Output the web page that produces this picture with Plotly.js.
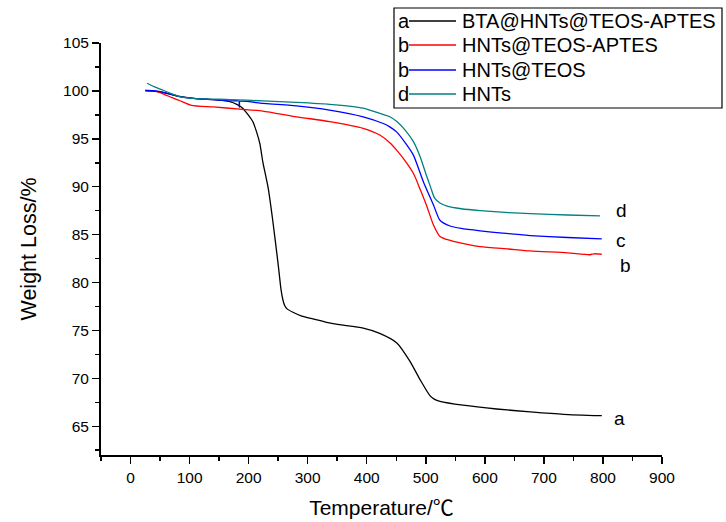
<!DOCTYPE html>
<html>
<head>
<meta charset="utf-8">
<script src="https://cdn.plot.ly/plotly-3.0.1.min.js"></script>
<style>html,body{margin:0;padding:0;background:#fff;}#chart{width:726px;height:522px;}</style>
</head>
<body>
<div id="chart"></div>
<script>
// ---- data ----
const seriesNames = ["BTA@HNTs@TEOS-APTES", "HNTs@TEOS-APTES", "HNTs@TEOS", "HNTs"];
const legendLetters = ["a", "b", "b", "d"];
const endLabels = ["a", "b", "c", "d"];

const aT = [25, 50, 80, 110, 140, 168, 180, 190, 198, 207, 213, 219, 224, 233, 241, 250, 255, 258, 261, 265, 275, 290, 309, 343, 394, 422, 451, 473, 490, 507, 515, 524, 563, 620, 677, 733, 798];
const aW = [100.0, 99.9, 99.45, 99.2, 99.1, 98.88, 98.6, 98.2, 97.6, 96.8, 95.8, 94.5, 92.6, 89.9, 86.4, 81.9, 79.2, 78.2, 77.6, 77.25, 76.9, 76.5, 76.2, 75.7, 75.25, 74.7, 73.7, 71.8, 69.9, 68.2, 67.8, 67.6, 67.2, 66.8, 66.5, 66.25, 66.1];

const bT = [25, 40, 55, 70, 83, 103, 140, 185, 224, 281, 337, 394, 422, 439, 451, 465, 479, 490, 501, 513, 524, 535, 547, 592, 640, 677, 740, 778, 785, 798];
const bW = [100.05, 100.0, 99.7, 99.3, 99.0, 98.5, 98.33, 98.1, 97.9, 97.3, 96.8, 96.1, 95.4, 94.6, 93.8, 92.7, 91.4, 89.8, 88.1, 86.0, 84.8, 84.5, 84.3, 83.75, 83.5, 83.3, 83.1, 82.9, 83.0, 82.95];

const cT = [25, 43, 60, 83, 111, 140, 168, 184, 184.3, 184.6, 224, 281, 337, 394, 428, 439, 451, 465, 479, 496, 513, 524, 541, 560, 592, 630, 677, 740, 798];
const cW = [100.05, 100.0, 99.8, 99.4, 99.2, 99.1, 98.96, 98.93, 98.3, 98.9, 98.7, 98.44, 98.0, 97.3, 96.6, 96.25, 95.7, 94.6, 93.3, 90.5, 88.1, 86.5, 85.9, 85.65, 85.4, 85.15, 84.9, 84.7, 84.55];

const dT = [28, 40, 55, 70, 83, 111, 168, 224, 281, 337, 394, 422, 439, 451, 465, 479, 490, 501, 509, 515, 524, 535, 560, 592, 640, 677, 740, 795];
const dW = [100.8, 100.45, 100.07, 99.7, 99.4, 99.2, 99.1, 98.96, 98.8, 98.6, 98.2, 97.65, 97.3, 96.8, 95.9, 94.7, 93.2, 91.2, 89.8, 88.8, 88.3, 88.0, 87.7, 87.5, 87.3, 87.2, 87.05, 86.95];

const xTicks = [0, 100, 200, 300, 400, 500, 600, 700, 800, 900];
const yTicks = [65, 70, 75, 80, 85, 90, 95, 100, 105];

// ---- styling ----
const colors = ["#000000", "#ff0000", "#0000ff", "#008080"];
const FONT = "Liberation Sans, Arial, sans-serif";
const W = 726, H = 522;
const M = {l: 101, r: 64, t: 43, b: 67};
const PW = W - M.l - M.r, PH = H - M.t - M.b;
const px = p => (p - M.l) / PW;
const py = p => (H - M.b - p) / PH;

const seriesT = [aT, bT, cT, dT];
const seriesW = [aW, bW, cW, dW];
const traces = seriesT.map((t, i) => ({
  x: t, y: seriesW[i], type: "scatter", mode: "lines",
  name: seriesNames[i],
  line: {color: colors[i], width: 1.3, shape: "spline", smoothing: 0.6},
  showlegend: false, hoverinfo: "skip"
}));

// end labels (data coordinates)
const endPos = [[828, 65.85], [838, 81.8], [831, 84.4], [831, 87.5]];
const annotations = endLabels.map((s, i) => ({
  x: endPos[i][0], y: endPos[i][1], xref: "x", yref: "y", text: s,
  showarrow: false, xanchor: "center", yanchor: "middle",
  font: {family: FONT, size: 19, color: "#000"}
}));

// custom legend (letter, line, name)
const rowY = [21, 45, 70, 94];
const shapes = [{
  type: "rect", xref: "paper", yref: "paper",
  x0: px(394), x1: px(722), y0: py(108), y1: py(8),
  line: {color: "#000", width: 1.2}, fillcolor: "rgba(0,0,0,0)"
}];
rowY.forEach((ry, i) => {
  shapes.push({type: "line", xref: "paper", yref: "paper",
    x0: px(409), x1: px(456), y0: py(ry), y1: py(ry),
    line: {color: colors[i], width: 1.3}});
  annotations.push({x: px(396), y: py(ry), xref: "paper", yref: "paper",
    text: legendLetters[i], showarrow: false, xanchor: "left", yanchor: "middle",
    font: {family: FONT, size: 20, color: "#000"}});
  annotations.push({x: px(460), y: py(ry), xref: "paper", yref: "paper",
    text: seriesNames[i], showarrow: false, xanchor: "left", yanchor: "middle",
    font: {family: FONT, size: 20, color: "#000"}});
});

const axisCommon = {
  showgrid: false, zeroline: false, showline: true, linecolor: "#000", linewidth: 2,
  ticks: "outside", ticklen: 7, tickwidth: 1.5, tickcolor: "#000",
  tickfont: {family: FONT, size: 15.5, color: "#000"}, mirror: false
};

const layout = {
  width: W, height: H, margin: M,
  paper_bgcolor: "#fff", plot_bgcolor: "#fff",
  showlegend: false,
  xaxis: Object.assign({}, axisCommon, {
    range: [-50, 900], tickmode: "array", tickvals: xTicks, ticktext: xTicks.map(String),
    minor: {dtick: 50, tick0: 0, ticks: "outside", ticklen: 4, tickwidth: 1.5, tickcolor: "#000"},
    title: {text: "Temperature/<span style=\"font-family:'Noto Sans CJK SC'\">℃</span>", font: {family: FONT, size: 21, color: "#000"}, standoff: 16}
  }),
  yaxis: Object.assign({}, axisCommon, {
    range: [62, 105], tickmode: "array", tickvals: yTicks, ticktext: yTicks.map(String),
    minor: {dtick: 2.5, tick0: 0, ticks: "outside", ticklen: 4, tickwidth: 1.5, tickcolor: "#000"},
    title: {text: "Weight Loss/%", font: {family: FONT, size: 21.5, color: "#000"}, standoff: 21}
  }),
  shapes: shapes,
  annotations: annotations
};

Plotly.newPlot("chart", traces, layout, {displayModeBar: false, staticPlot: true});
</script>
</body>
</html>
